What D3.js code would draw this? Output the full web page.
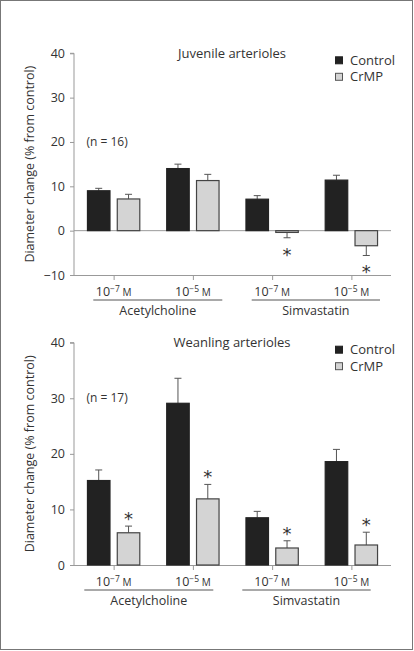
<!DOCTYPE html>
<html>
<head>
<meta charset="utf-8">
<script src="https://cdn.jsdelivr.net/npm/d3@7"></script>
<style>
  html, body { margin: 0; padding: 0; background: #fff; }
  svg { display: block; font-family: "Open Sans", "Noto Sans", sans-serif; }
</style>
</head>
<body>
<svg id="chart" width="414" height="651"></svg>
<script>
// ---- Data ----
const groups = ["Ach-7", "Ach-5", "Sim-7", "Sim-5"];
const groupExponents = ["−7", "−5", "−7", "−5"];
const series = ["Control", "CrMP"];
const yTicks = [-10, 0, 10, 20, 30, 40];

const juvenileControl = [9.0, 14.0, 7.1, 11.4];
const juvenileControlErr = [0.55, 1.0, 0.8, 1.1];
const juvenileCrMP = [7.15, 11.3, -0.4, -3.4];
const juvenileCrMPErr = [1.05, 1.4, 1.2, 2.2];
const juvenileSig = [false, false, true, true];

const weanlingControl = [15.2, 29.1, 8.5, 18.6];
const weanlingControlErr = [1.9, 4.5, 1.15, 2.2];
const weanlingCrMP = [5.8, 11.9, 3.06, 3.6];
const weanlingCrMPErr = [1.2, 2.6, 1.3, 2.3];
const weanlingSig = [true, true, true, true];

const panels = [
  { title: "Juvenile arterioles", n: "(n = 16)", nAt: 20, domain: [-10, 40], ticks: yTicks,
    top: 53.3, bottom: 275, control: juvenileControl, controlErr: juvenileControlErr,
    crmp: juvenileCrMP, crmpErr: juvenileCrMPErr, sig: juvenileSig,
    drugLines: [[93.3, 222.3], [251.7, 380]] },
  { title: "Weanling arterioles", n: "(n = 17)", nAt: 30, domain: [0, 40], ticks: yTicks.filter(t => t >= 0),
    top: 342.7, bottom: 565, control: weanlingControl, controlErr: weanlingControlErr,
    crmp: weanlingCrMP, crmpErr: weanlingCrMPErr, sig: weanlingSig,
    drugLines: [[84.3, 213.3], [242.3, 370.7]] }
];
const drugs = ["Acetylcholine", "Simvastatin"];

// ---- Drawing ----
const svg = d3.select("#chart");
const AXIS = "#999";
const TEXT = "#333";
const colors = { Control: "#222", CrMP: "#d4d4d4" };

svg.append("rect").attr("x", 0.5).attr("y", 0.5).attr("width", 412).attr("height", 649)
  .attr("fill", "none").attr("stroke", "#777").attr("stroke-width", 1);

const xLeft = 74, xRight = 391;
const x0 = d3.scaleBand().domain(groups).range([xLeft, xRight]).paddingInner(0.327).paddingOuter(0.1635);
const x1 = d3.scaleBand().domain(series).range([0, x0.bandwidth()]).paddingInner(0.211);

panels.forEach(p => {
  const g = svg.append("g");
  const y = d3.scaleLinear().domain(p.domain).range([p.bottom, p.top]);

  // y axis
  const yAxis = g.append("g").attr("transform", `translate(${xLeft},0)`)
    .call(d3.axisLeft(y).tickValues(p.ticks).tickSize(4).tickPadding(5).tickFormat(d => d < 0 ? "−" + Math.abs(d) : d));
  yAxis.select(".domain").attr("stroke", AXIS).attr("d", `M-4,${y(p.domain[1])}H0V${y(p.domain[0])}`);
  yAxis.selectAll(".tick line").attr("stroke", AXIS);
  yAxis.selectAll(".tick text").attr("fill", TEXT).attr("font-size", 12.5).attr("font-family", "Open Sans");

  // bottom axis
  const xAxis = g.append("g").attr("transform", `translate(0,${p.bottom})`)
    .call(d3.axisBottom(d3.scalePoint().domain(groups).range([x0(groups[0]) + x0.bandwidth() / 2, x0(groups[3]) + x0.bandwidth() / 2])).tickSize(5).tickFormat(""));
  xAxis.select(".domain").attr("stroke", AXIS).attr("d", `M${xLeft},0.5H${xRight}`);
  xAxis.selectAll(".tick line").attr("stroke", AXIS);

  // zero line
  if (p.domain[0] < 0) {
    g.append("line").attr("x1", xLeft).attr("x2", xRight).attr("y1", y(0)).attr("y2", y(0))
      .attr("stroke", AXIS).attr("stroke-width", 1);
  }

  // bars
  const rows = groups.map((grp, i) => ({
    grp, i,
    vals: [
      { s: "Control", v: p.control[i], e: p.controlErr[i], sig: false },
      { s: "CrMP", v: p.crmp[i], e: p.crmpErr[i], sig: p.sig[i] }
    ]
  }));
  const gg = g.selectAll(".grp").data(rows).join("g").attr("transform", d => `translate(${x0(d.grp)},0)`);
  const bars = gg.selectAll(".bar").data(d => d.vals).join("g");
  bars.append("line")
    .attr("x1", d => x1(d.s) + x1.bandwidth() / 2).attr("x2", d => x1(d.s) + x1.bandwidth() / 2)
    .attr("y1", d => y(d.v)).attr("y2", d => y(d.v + Math.sign(d.v) * d.e))
    .attr("stroke", "#555").attr("stroke-width", 1);
  bars.append("line")
    .attr("x1", d => x1(d.s) + x1.bandwidth() / 2 - 3.5).attr("x2", d => x1(d.s) + x1.bandwidth() / 2 + 3.5)
    .attr("y1", d => y(d.v + Math.sign(d.v) * d.e)).attr("y2", d => y(d.v + Math.sign(d.v) * d.e))
    .attr("stroke", "#555").attr("stroke-width", 1);
  bars.append("rect")
    .attr("x", d => x1(d.s) + 0.5).attr("width", x1.bandwidth() - 1)
    .attr("y", d => Math.min(y(d.v), y(0))).attr("height", d => Math.abs(y(d.v) - y(0)))
    .attr("fill", d => colors[d.s]).attr("stroke", d => d.s === "Control" ? "#222" : "#444").attr("stroke-width", 1.2);
  bars.filter(d => d.sig).append("text")
    .attr("x", d => x1(d.s) + x1.bandwidth() / 2)
    .attr("y", d => y(d.v + Math.sign(d.v) * d.e) + (d.v >= 0 ? -12 : 12))
    .attr("dy", "0.6em").attr("text-anchor", "middle")
    .attr("font-size", 18).style("fill", "#333").attr("font-family", "DejaVu Sans").text("*");

  // group labels 10^-x M
  const lab = g.selectAll(".glab").data(groups).join("text")
    .attr("x", d => x0(d) + x0.bandwidth() / 2).attr("y", p.bottom + 16.5 + 4.5)
    .attr("text-anchor", "middle").attr("fill", TEXT).attr("font-size", 12.5);
  lab.append("tspan").text("10");
  lab.append("tspan").attr("dy", -4.5).attr("font-size", 8.5).text((d, i) => groupExponents[i]);
  lab.append("tspan").attr("dy", 4.5).attr("font-size", 10).text(" M");

  // drug lines and labels
  p.drugLines.forEach((ln, i) => {
    g.append("line").attr("x1", ln[0]).attr("x2", ln[1]).attr("y1", p.bottom + 25).attr("y2", p.bottom + 25)
      .attr("stroke", "#555").attr("stroke-width", 1);
    g.append("text").attr("x", (ln[0] + ln[1]) / 2).attr("y", p.bottom + 36).attr("dy", "0.35em")
      .attr("text-anchor", "middle").attr("fill", TEXT).attr("font-size", 12.5).text(drugs[i]);
  });

  // title
  g.append("text").attr("x", 232).attr("y", p.top).attr("dy", "0.35em").attr("text-anchor", "middle")
    .attr("fill", TEXT).attr("font-size", 13).text(p.title);

  // n label
  g.append("text").attr("x", 86.5).attr("y", y(p.nAt)).attr("dy", "0.35em")
    .attr("fill", TEXT).attr("font-size", 12).text(p.n);

  // legend
  const lg = g.append("g").attr("transform", `translate(335,${p.top + 7})`);
  series.forEach((s, i) => {
    lg.append("rect").attr("x", 0.5).attr("y", i * 16.5 - 3.5).attr("width", 7).attr("height", 7)
      .attr("fill", colors[s]).attr("stroke", s === "Control" ? "#222" : "#555").attr("stroke-width", 1);
    lg.append("text").attr("x", 15).attr("y", i * 16.5).attr("dy", "0.35em")
      .attr("fill", TEXT).attr("font-size", 13).text(s);
  });

  // y title
  g.append("text").attr("transform", `translate(29.5,${(p.top + p.bottom) / 2}) rotate(-90)`)
    .attr("dy", "0.35em").attr("text-anchor", "middle").attr("fill", TEXT).attr("font-size", 12.5)
    .text("Diameter change (% from control)");
});
</script>
</body>
</html>
